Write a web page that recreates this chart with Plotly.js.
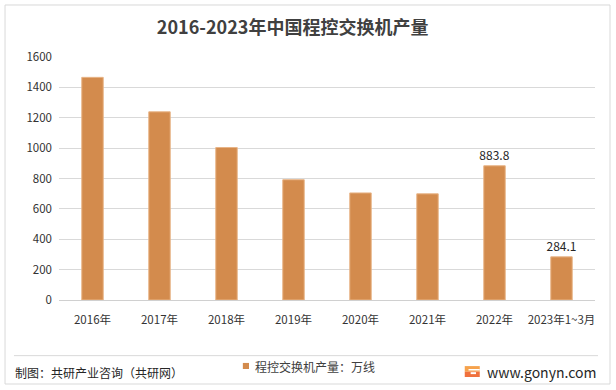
<!DOCTYPE html>
<html><head><meta charset="utf-8">
<script src="https://cdn.plot.ly/plotly-3.0.1.min.js"></script>
<style>html,body{margin:0;padding:0;background:#fff}#c{width:616px;height:390px}</style>
</head><body><div id="c"></div>
<script>
const categories = ['2016年','2017年','2018年','2019年','2020年','2021年','2022年','2023年1~3月'];
const values = [1466, 1239, 1004, 792, 705, 699, 883.8, 284.1];
const labels = ['', '', '', '', '', '', '883.8', '284.1'];
const yTicks = [0,200,400,600,800,1000,1200,1400,1600];
const seriesName = '程控交换机产量：万线';

const F = '"Noto Sans CJK SC", "Noto Sans", sans-serif';
const barColor = '#D38B4D';
const trace = {
  type: 'bar', x: categories, y: values, name: seriesName, showlegend: false,
  text: labels, textposition: 'outside', cliponaxis: false, constraintext: 'none',
  textfont: {family: F, size: 12, color: '#262626'},
  marker: {color: barColor, line: {color: '#E8B487', width: 1}},
  hoverinfo: 'none'
};
const layout = {
  width: 616, height: 390,
  margin: {l: 59, r: 21, t: 57, b: 90, autoexpand: false},
  paper_bgcolor: '#fff', plot_bgcolor: '#fff',
  font: {family: F, color: '#404040', size: 11},
  title: {text: '<b>2016-2023年中国程控交换机产量</b>', x: 0.475, xanchor: 'center', y: 0.928, yanchor: 'middle',
          font: {family: F, size: 18, color: '#404040'}},
  bargap: 0.68,
  xaxis: {type: 'category', showgrid: false, zeroline: false, showline: false, ticks: '',
          tickfont: {family: F, size: 11.5, color: '#333333'}, ticklabelstandoff: 11},
  yaxis: {range: [0, 1600], tickvals: yTicks, showgrid: true, gridcolor: '#D9D9D9', gridwidth: 1,
          zeroline: true, zerolinecolor: '#D0D0D0', zerolinewidth: 1, showline: false, ticks: '',
          tickfont: {family: F, size: 11.5, color: '#333333'}, ticklabelstandoff: 6},
  showlegend: false,
  shapes: [
    {type: 'rect', xref: 'paper', yref: 'paper', x0: -0.1007, x1: 1.028, y0: -0.3457, y1: 1.214,
     line: {color: '#D9D9D9', width: 1}, fillcolor: 'rgba(0,0,0,0)', layer: 'below'},
    {type: 'line', xref: 'paper', yref: 'paper', x0: -0.084, x1: 1.0056, y0: -0.229, y1: -0.229,
     line: {color: '#D9D9D9', width: 1}},
    {type: 'rect', xref: 'paper', yref: 'paper', x0: 0.343, x1: 0.3545, y0: -0.284, y1: -0.259,
     line: {width: 0}, fillcolor: barColor},
    {type: 'rect', xref: 'paper', yref: 'paper', x0: 0.757, x1: 0.785, y0: -0.295, y1: -0.272,
     line: {width: 0}, fillcolor: '#F6A24C'},
    {type: 'rect', xref: 'paper', yref: 'paper', x0: 0.757, x1: 0.785, y0: -0.317, y1: -0.295,
     line: {width: 0}, fillcolor: '#F0713D'},
    {type: 'rect', xref: 'paper', yref: 'paper', x0: 0.764, x1: 0.785, y0: -0.284, y1: -0.29,
     line: {width: 0}, fillcolor: '#ffffff'},
    {type: 'rect', xref: 'paper', yref: 'paper', x0: 0.768, x1: 0.778, y0: -0.297, y1: -0.305,
     line: {width: 0}, fillcolor: '#ffffff'}
  ],
  annotations: [
    {text: seriesName, xref: 'paper', yref: 'paper', x: 0.362, y: -0.272, xanchor: 'left', yanchor: 'middle',
     showarrow: false, font: {family: F, size: 12, color: '#404040'}},
    {text: '制图：共研产业咨询（共研网）', xref: 'paper', yref: 'paper', x: -0.085, y: -0.299, xanchor: 'left', yanchor: 'middle',
     showarrow: false, font: {family: F, size: 12, color: '#262626'}},
    {text: 'www.gonyn.com', xref: 'paper', yref: 'paper', x: 1.0056, y: -0.296, xanchor: 'right', yanchor: 'middle',
     showarrow: false, font: {family: F, size: 14, color: '#262626'}}
  ]
};
Plotly.newPlot('c', [trace], layout, {staticPlot: true, displayModeBar: false});
</script></body></html>
